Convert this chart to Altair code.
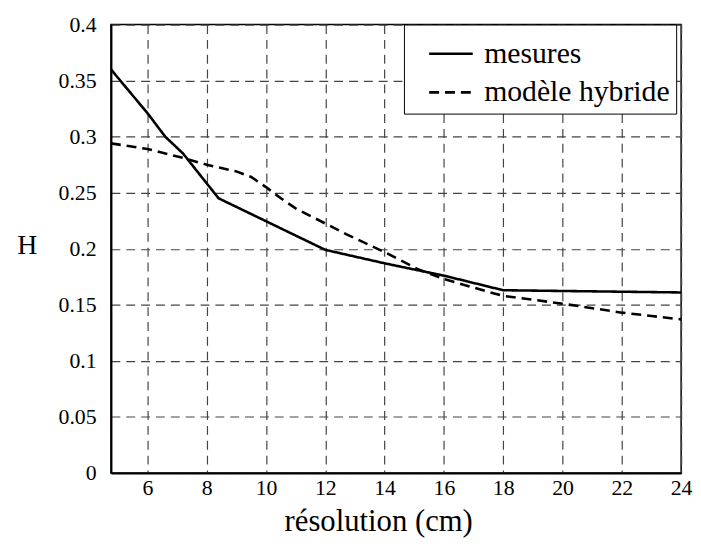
import altair as alt
import pandas as pd

# mesures (solid line)
mes_x = [4.77, 6.0, 6.6, 7.2, 8.4, 12.0, 14.0, 16.0, 18.0, 24.0]
mes_y = [0.360, 0.321, 0.300, 0.285, 0.245, 0.199, 0.187, 0.176, 0.163, 0.161]

# modèle hybride (dashed line)
mod_x = [4.77, 6.0, 7.2, 8.0, 9.0, 9.5, 10.0, 10.5, 11.0, 12.0, 12.7, 14.0,
         15.1, 16.0, 17.7, 18.0, 20.0, 22.0, 23.0, 24.0]
mod_y = [0.294, 0.289, 0.281, 0.275, 0.269, 0.264, 0.255, 0.245, 0.236, 0.2225,
         0.213, 0.197, 0.182, 0.173, 0.160, 0.158, 0.151, 0.143, 0.140, 0.137]

series_names = ["mesures", "modèle hybride"]
x_ticks = [6, 8, 10, 12, 14, 16, 18, 20, 22, 24]
y_ticks = [0, 0.05, 0.1, 0.15, 0.2, 0.25, 0.3, 0.35, 0.4]

rows = []
for i, (x, y) in enumerate(zip(mes_x, mes_y)):
    rows.append({"res": x, "H": y, "serie": series_names[0], "order": i})
for i, (x, y) in enumerate(zip(mod_x, mod_y)):
    rows.append({"res": x, "H": y, "serie": series_names[1], "order": i})
df = pd.DataFrame(rows)

FONT = "Liberation Serif"

chart = alt.Chart(df).mark_line(strokeWidth=2.6, color="black").encode(
    x=alt.X("res:Q",
            scale=alt.Scale(domain=[4.77, 24], nice=False, zero=False),
            axis=alt.Axis(values=x_ticks, title="résolution (cm)",
                          labelFontSize=22, labelPadding=5, labelFlush=False,
                          labelOverlap=False,
                          titleFontSize=31, titleFontWeight="normal",
                          titleAlign="center", titleX=270,
                          titleBaseline="alphabetic", titleY=58)),
    y=alt.Y("H:Q",
            scale=alt.Scale(domain=[0, 0.4], nice=False),
            axis=alt.Axis(values=y_ticks, format=".2~f", title="H",
                          labelFontSize=22, labelPadding=15, labelOverlap=False,
                          titleAngle=0, titleFontSize=28, titleFontWeight="normal",
                          titleAlign="center", titleBaseline="middle",
                          titleX=-85, titleY=223)),
    strokeDash=alt.StrokeDash("serie:N",
                              scale=alt.Scale(domain=series_names, range=[[1, 0], [10, 6]]),
                              legend=alt.Legend(title=None, orient="none",
                                                legendX=296, legendY=0,
                                                symbolType="stroke", symbolSize=1936,
                                                symbolStrokeWidth=2.6, symbolStrokeColor="black",
                                                symbolOffset=18, labelOffset=10,
                                                labelFontSize=30, labelFont=FONT,
                                                labelColor="black", rowPadding=-9,
                                                padding=6, strokeColor="black",
                                                fillColor="white", labelLimit=400)),
    order="order:Q",
).properties(
    width=576, height=453,
    autosize=alt.AutoSizeParams(type="none"),
    padding={"left": 104, "top": 14, "right": 12, "bottom": 63},
).configure(
    font=FONT
).configure_view(
    stroke="black", strokeWidth=1.5
).configure_axis(
    labelFont=FONT, titleFont=FONT, labelColor="black", titleColor="black",
    ticks=False, domainColor="black", domainWidth=2,
    grid=True, gridColor="#444", gridDash=[9, 6], gridWidth=1.2, gridOpacity=1,
)

chart.save("out.html", embed_options={"renderer": "svg", "actions": False})
